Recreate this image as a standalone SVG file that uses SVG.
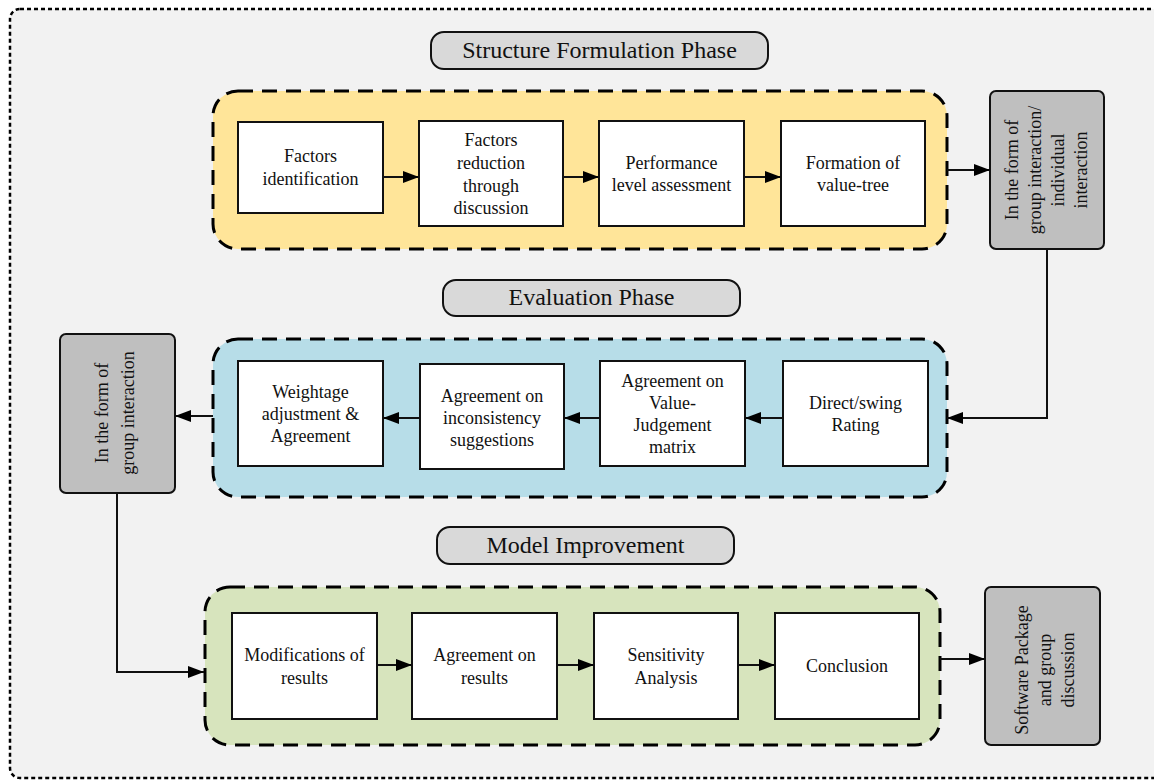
<svg xmlns="http://www.w3.org/2000/svg" width="1154" height="780" viewBox="0 0 1154 780">
<defs>
<marker id="ah" markerUnits="userSpaceOnUse" markerWidth="16" markerHeight="12" refX="16" refY="6" orient="auto">
<path d="M0,0 L16,6 L0,12 z" fill="#000"/>
</marker>
<style>
.t{font-family:"Liberation Serif","Times New Roman",serif;font-size:18px;fill:#111;text-anchor:middle}
.p{font-family:"Liberation Serif","Times New Roman",serif;font-size:24px;fill:#111;text-anchor:middle}
.box{fill:#fff;stroke:#111;stroke-width:2}
.grp{stroke:#000;stroke-width:3;stroke-dasharray:15 9}
.pill{fill:#d9d9d9;stroke:#111;stroke-width:2}
.gray{fill:#bfbfbf;stroke:#111;stroke-width:2}
.c{fill:none;stroke:#111;stroke-width:2}
.ca{fill:none;stroke:#111;stroke-width:2;marker-end:url(#ah)}
</style>
</defs>
<rect width="1154" height="780" fill="#fff"/>
<rect id="frame" x="10" y="9" width="1160" height="769" rx="10" fill="#f2f2f2" stroke="#000" stroke-width="2.5" stroke-dasharray="4 3"/>

<g id="phase1-label"><rect class="pill" x="431" y="32" width="337" height="37" rx="13"/><text class="p" x="599.5" y="58">Structure Formulation Phase</text></g>
<g id="phase1"><rect class="grp" x="213" y="91" width="734" height="158" rx="25" fill="#ffe599"/></g>
<g id="n1"><rect class="box" x="238" y="122" width="145" height="91"/><text class="t" x="310.5" y="162">Factors</text><text class="t" x="310.5" y="185">identification</text></g>
<g id="n2"><rect class="box" x="419" y="121" width="144" height="105"/><text class="t" x="491" y="146">Factors</text><text class="t" x="491" y="169">reduction</text><text class="t" x="491" y="192">through</text><text class="t" x="491" y="214">discussion</text></g>
<g id="n3"><rect class="box" x="599" y="121" width="145" height="105"/><text class="t" x="671.5" y="169">Performance</text><text class="t" x="671.5" y="191">level assessment</text></g>
<g id="n4"><rect class="box" x="781" y="121" width="144" height="105"/><text class="t" x="853" y="169">Formation of</text><text class="t" x="853" y="191">value-tree</text></g>
<g id="g1"><rect class="gray" x="990" y="91" width="114" height="158" rx="6"/>
<g transform="translate(1047,170) rotate(-90)"><text class="t" x="0" y="-29">In the form of</text><text class="t" x="0" y="-6">group interaction/</text><text class="t" x="0" y="17">individual</text><text class="t" x="0" y="40">interaction</text></g></g>

<g id="phase2-label"><rect class="pill" x="443" y="280" width="297" height="36" rx="13"/><text class="p" x="591.5" y="305">Evaluation Phase</text></g>
<g id="phase2"><rect class="grp" x="213" y="339" width="734" height="158" rx="25" fill="#b7dde8"/></g>
<g id="n5"><rect class="box" x="238" y="361" width="145" height="105"/><text class="t" x="310.5" y="398">Weightage</text><text class="t" x="310.5" y="420">adjustment &amp;</text><text class="t" x="310.5" y="442">Agreement</text></g>
<g id="n6"><rect class="box" x="420" y="364" width="144" height="105"/><text class="t" x="492" y="402">Agreement on</text><text class="t" x="492" y="424">inconsistency</text><text class="t" x="492" y="446">suggestions</text></g>
<g id="n7"><rect class="box" x="600" y="361" width="145" height="105"/><text class="t" x="672.5" y="387">Agreement on</text><text class="t" x="672.5" y="409">Value-</text><text class="t" x="672.5" y="431">Judgement</text><text class="t" x="672.5" y="453">matrix</text></g>
<g id="n8"><rect class="box" x="783" y="361" width="145" height="105"/><text class="t" x="855.5" y="409">Direct/swing</text><text class="t" x="855.5" y="431">Rating</text></g>
<g id="g2"><rect class="gray" x="60" y="334" width="115" height="159" rx="6"/>
<g transform="translate(117,413) rotate(-90)"><text class="t" x="0" y="-9">In the form of</text><text class="t" x="0" y="17">group interaction</text></g></g>

<g id="phase3-label"><rect class="pill" x="437" y="527" width="297" height="37" rx="13"/><text class="p" x="585.5" y="553">Model Improvement</text></g>
<g id="phase3"><rect class="grp" x="205" y="587" width="735" height="158" rx="25" fill="#d7e4bd"/></g>
<g id="n9"><rect class="box" x="232" y="613" width="145" height="106"/><text class="t" x="304.5" y="661">Modifications of</text><text class="t" x="304.5" y="684">results</text></g>
<g id="n10"><rect class="box" x="412" y="613" width="145" height="106"/><text class="t" x="484.5" y="661">Agreement on</text><text class="t" x="484.5" y="684">results</text></g>
<g id="n11"><rect class="box" x="594" y="613" width="144" height="106"/><text class="t" x="666" y="661">Sensitivity</text><text class="t" x="666" y="684">Analysis</text></g>
<g id="n12"><rect class="box" x="775" y="613" width="144" height="106"/><text class="t" x="847" y="672">Conclusion</text></g>
<g id="g3"><rect class="gray" x="985" y="587" width="115" height="158" rx="6"/>
<g transform="translate(1045,670) rotate(-90)"><text class="t" x="0" y="-17">Software Package</text><text class="t" x="0" y="6">and group</text><text class="t" x="0" y="29">discussion</text></g></g>

<g id="connectors">
<path class="ca" d="M383,177 H419"/>
<path class="ca" d="M563,177 H599"/>
<path class="ca" d="M744,177 H781"/>
<path class="ca" d="M947,170 H990"/>
<path class="ca" d="M1047,249 V418 H947"/>
<path class="ca" d="M783,418 H745"/>
<path class="ca" d="M600,418 H564"/>
<path class="ca" d="M420,418 H383"/>
<path class="ca" d="M213,416 H175"/>
<path class="ca" d="M117,493 V672 H204"/>
<path class="ca" d="M377,665 H412"/>
<path class="ca" d="M557,665 H594"/>
<path class="ca" d="M738,665 H775"/>
<path class="ca" d="M940,659 H985"/>
</g>
</svg>
